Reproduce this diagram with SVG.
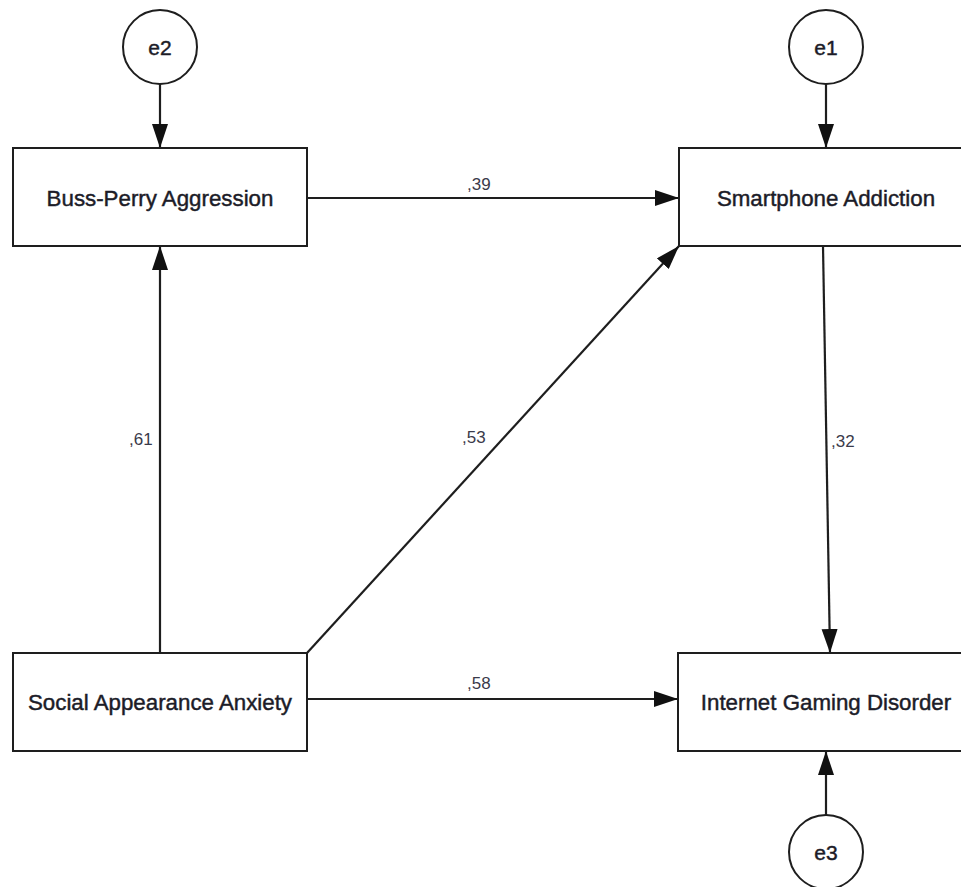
<svg xmlns="http://www.w3.org/2000/svg" width="961" height="887" viewBox="0 0 961 887">
<style>
.box{fill:#fff;stroke:#1e1e1e;stroke-width:2}
.err{fill:#fff;stroke:#1e1e1e;stroke-width:2}
.lbl{font-family:"Liberation Sans",Arial,sans-serif;font-size:22.3px;fill:#1c1c28;stroke:#1c1c28;stroke-width:0.45;text-anchor:middle}
.elbl{font-family:"Liberation Sans",Arial,sans-serif;font-size:21px;fill:#1c1c28;stroke:#1c1c28;stroke-width:0.45;text-anchor:middle}
.num{font-family:"Liberation Sans",Arial,sans-serif;font-size:17px;fill:#3a3a4a}
.con{stroke:#1e1e1e;stroke-width:2.2;fill:none;marker-end:url(#ah)}
</style>
<defs>
<marker id="ah" markerUnits="userSpaceOnUse" markerWidth="26" markerHeight="18" refX="24" refY="8" orient="auto">
<path d="M0,0 L24,8 L0,16 Z" fill="#111"/>
</marker>
</defs>
<rect width="961" height="887" fill="#fff"/>
<g id="connectors">
<line class="con" x1="160" y1="84" x2="160" y2="148"/>
<line class="con" x1="826" y1="84" x2="826" y2="148"/>
<line class="con" x1="307" y1="198" x2="679" y2="198"/>
<line class="con" x1="160" y1="653" x2="160" y2="246"/>
<line class="con" x1="307" y1="653" x2="679" y2="246"/>
<line class="con" x1="823" y1="246" x2="830" y2="653"/>
<line class="con" x1="307" y1="699" x2="678" y2="699"/>
<line class="con" x1="826" y1="815" x2="826" y2="751"/>
<text class="num" x="467" y="190">,39</text>
<text class="num" x="129" y="445">,61</text>
<text class="num" x="462" y="443">,53</text>
<text class="num" x="831" y="447">,32</text>
<text class="num" x="467" y="689">,58</text>
</g>
<g id="e2">
<circle class="err" cx="160" cy="47" r="37"/>
<text class="elbl" x="160" y="55">e2</text>
</g>
<g id="e1">
<circle class="err" cx="826" cy="47" r="37"/>
<text class="elbl" x="826" y="55">e1</text>
</g>
<g id="e3">
<circle class="err" cx="826" cy="852" r="37"/>
<text class="elbl" x="826" y="860">e3</text>
</g>
<g id="buss-perry">
<rect class="box" x="13" y="148" width="294" height="98"/>
<text class="lbl" x="160" y="206">Buss-Perry Aggression</text>
</g>
<g id="smartphone">
<rect class="box" x="679" y="148" width="294" height="98"/>
<text class="lbl" x="826" y="206">Smartphone Addiction</text>
</g>
<g id="social">
<rect class="box" x="13" y="653" width="294" height="98"/>
<text class="lbl" x="160" y="710">Social Appearance Anxiety</text>
</g>
<g id="internet">
<rect class="box" x="678" y="653" width="294" height="98"/>
<text class="lbl" x="826" y="710">Internet Gaming Disorder</text>
</g>
</svg>
